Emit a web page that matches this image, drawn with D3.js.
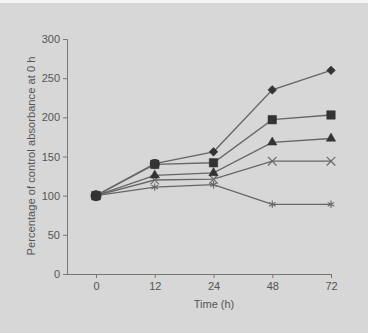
<!DOCTYPE html>
<html>
<head>
<meta charset="utf-8">
<script src="https://cdn.jsdelivr.net/npm/d3@7"></script>
<style>
  body { margin: 0; background: #fff; }
  svg text { font-family: "Liberation Sans", Arial, sans-serif; fill: #555; }
</style>
</head>
<body>
<div id="chart"></div>
<script>
// time points (h)
const times = ['0', '12', '24', '48', '72']
const yTicks = [0, 50, 100, 150, 200, 250, 300]

// percentage of control absorbance
const diamond  = [100, 141, 156, 235, 260]
const square   = [100, 140, 142, 197, 203]
const triangle = [100, 126, 129, 168, 173]
const cross    = [100, 120, 121, 144, 144]
const asterisk = [100, 111, 114, 89, 89]

const series = [
  { name: 'asterisk', values: asterisk },
  { name: 'cross', values: cross },
  { name: 'triangle', values: triangle },
  { name: 'square', values: square },
  { name: 'diamond', values: diamond }
]

const width = 368, height = 333

const svg = d3.select('#chart')
  .append('svg')
  .attr('width', width)
  .attr('height', height)

svg.append('rect')
  .attr('width', width)
  .attr('height', height)
  .attr('fill', '#d7d7d7')
svg.append('rect')
  .attr('width', width)
  .attr('height', 3)
  .attr('fill', '#f4f4f4')

let x = d3.scalePoint()
  .domain(times)
  .range([96, 331])

let y = d3.scaleLinear()
  .domain([0, 300])
  .range([274, 39])

// axes
let yAxis = svg.append('g')
  .attr('transform', 'translate(67,0)')
  .call(d3.axisLeft(y).tickValues(yTicks).tickSize(4).tickPadding(3))
yAxis.selectAll('text').attr('font-size', 11)

let xAxis = svg.append('g')
  .attr('transform', 'translate(0,274)')
  .call(d3.axisBottom(x).tickSize(4).tickPadding(4).tickSizeOuter(0))
xAxis.select('.domain').attr('d', 'M67,0.5H331')
xAxis.selectAll('text').attr('font-size', 11)

svg.selectAll('.domain, .tick line').attr('stroke', '#777')

svg.append('text')
  .attr('x', 214)
  .attr('y', 308)
  .attr('text-anchor', 'middle')
  .attr('font-size', 11)
  .text('Time (h)')

svg.append('text')
  .attr('transform', 'translate(31,156) rotate(-90)')
  .attr('text-anchor', 'middle')
  .attr('dy', '0.35em')
  .attr('font-size', 11.2)
  .text('Percentage of control absorbance at 0 h')

// lines
let line = d3.line()
  .x((d, i) => x(times[i]))
  .y(d => y(d))

svg.selectAll('.series-line')
  .data(series)
  .enter()
  .append('path')
  .attr('class', 'series-line')
  .attr('d', d => line(d.values))
  .attr('fill', 'none')
  .attr('stroke', '#666')
  .attr('stroke-width', 1.3)

// markers
const symbolType = {
  diamond: d3.symbolSquare,
  square: d3.symbolSquare,
  triangle: d3.symbolTriangle,
  cross: d3.symbolX,
  asterisk: d3.symbolAsterisk
}
const symbolSize = { diamond: 38, square: 72, triangle: 38, cross: 50, asterisk: 40 }

series.forEach(s => {
  let filled = s.name === 'diamond' || s.name === 'square' || s.name === 'triangle'
  let rot = s.name === 'diamond' ? ' rotate(45)' : ''
  svg.append('g')
    .selectAll('path')
    .data(s.values)
    .enter()
    .append('path')
    .attr('transform', (d, i) => `translate(${x(times[i])},${y(d)})${rot}`)
    .attr('d', d3.symbol().type(symbolType[s.name]).size(symbolSize[s.name]))
    .attr('fill', filled ? '#333' : 'none')
    .attr('stroke', filled ? '#333' : '#666')
    .attr('stroke-width', filled ? 0.5 : 1.1)
})

// blob where all series meet at 0 h and the overlap at 12 h
svg.append('circle')
  .attr('cx', x('0')).attr('cy', y(100)).attr('r', 5.5).attr('fill', '#333')
svg.append('circle')
  .attr('cx', x('12')).attr('cy', y(140.5)).attr('r', 5).attr('fill', '#333')
</script>
</body>
</html>
